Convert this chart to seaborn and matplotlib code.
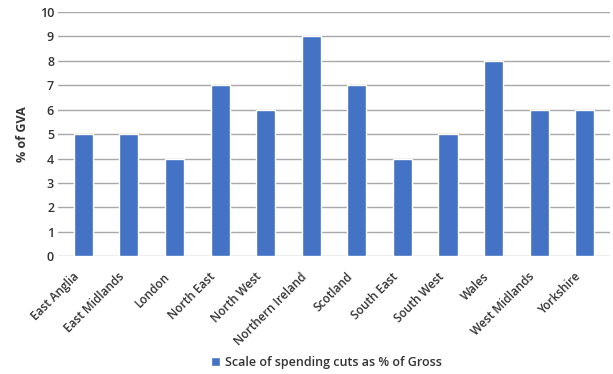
import matplotlib
matplotlib.use("Agg")
import matplotlib.pyplot as plt
import matplotlib.transforms as mtransforms
import seaborn as sns
import pandas as pd
from matplotlib.patches import Patch

regions = ["East Anglia", "East Midlands", "London", "North East", "North West",
           "Northern Ireland", "Scotland", "South East", "South West", "Wales",
           "West Midlands", "Yorkshire"]
values = [5, 5, 4, 7, 6, 9, 7, 4, 5, 8, 6, 6]
yticks = list(range(0, 11))
series_name = "Scale of spending cuts as % of Gross"

df = pd.DataFrame({"region": regions, "value": values})

sns.set_theme(style="white")
plt.rcParams['font.family'] = ['Open Sans', 'DejaVu Sans']

fig = plt.figure(figsize=(6.13, 3.74), dpi=100)
ax = fig.add_axes([0.095, 0.315, 0.90, 0.653])
color = "#4472C4"
sns.barplot(data=df, x="region", y="value", color=color, width=0.42,
            saturation=1, ax=ax, zorder=3)
ax.set_ylim(0, 10)
ax.set_yticks(yticks)
ax.set_yticklabels([str(t) for t in yticks], fontsize=9, color="#333333",
                   fontweight="semibold")
ax.yaxis.grid(True, color="#a8a8a8", linewidth=1, zorder=0)
ax.set_axisbelow(True)
for s in ax.spines.values():
    s.set_visible(False)
ax.tick_params(axis="both", length=0, pad=3)
ax.set_xticks(range(len(regions)))
ax.set_xticklabels(regions, rotation=45, ha="right", rotation_mode="anchor",
                   fontsize=8.5, color="#333333", fontweight="semibold")
offset = mtransforms.ScaledTranslation(-0.11, -0.10, fig.dpi_scale_trans)
for lbl in ax.get_xticklabels():
    lbl.set_transform(lbl.get_transform() + offset)
ax.set_xlabel("")
ax.set_ylabel("% of GVA", fontsize=9, fontweight="bold", color="#333333", labelpad=8)
ax.set_xlim(-0.55, len(regions) - 0.45)

handles = [Patch(facecolor=color, label=series_name)]
fig.legend(handles=handles, loc="center", bbox_to_anchor=(0.532, 0.032), frameon=False,
           handlelength=0.7, handleheight=0.7, handletextpad=0.4,
           labelcolor="#333333", prop={"weight": "semibold", "size": 9})

fig.savefig("out.png", dpi=100)
